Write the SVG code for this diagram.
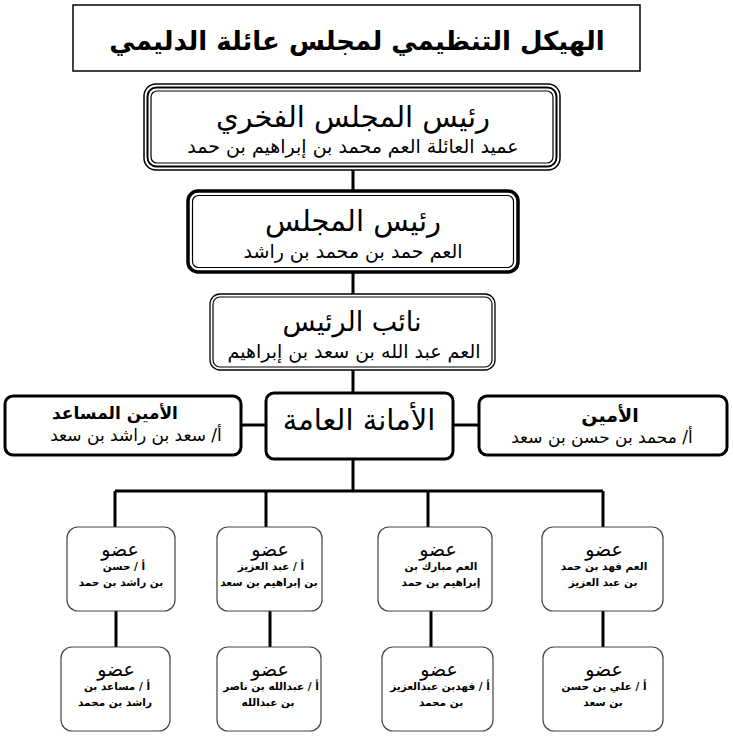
<svg xmlns="http://www.w3.org/2000/svg" width="733" height="743" viewBox="0 0 733 743">
<style>
text{font-family:"DejaVu Sans","Noto Sans",sans-serif;text-anchor:middle;fill:#000}
.t{font-weight:bold;font-size:26px}
.s{font-size:19px}
.mh{font-size:17px;font-weight:bold}
.ms{font-size:17px}
.m1{font-size:19px}
.m2{font-size:10.5px;font-weight:bold}
.con{stroke:#000;stroke-width:3;fill:none}
.mb{fill:#fff;stroke:#444;stroke-width:1.2}
.thin{fill:none;stroke:#000;stroke-width:1.2}
</style>
<rect width="733" height="743" fill="#fff"/>
<g id="connectors">
<path class="con" d="M353 170V190M353 273V294M353 370V392M241 425H265M453 425H478M353 459V491M115 491H603M115 491V527M266 491V527M428 491V527M603 491V527M116 610V647M270 610V647M431 610V647M603 610V647"/>
</g>
<g id="title">
<rect x="73" y="5" width="567" height="66" fill="#fff" stroke="#000" stroke-width="1.5"/>
<text class="t" x="357" y="50">الهيكل التنظيمي لمجلس عائلة الدليمي</text>
</g>
<g id="honorary">
<rect x="144" y="84" width="416" height="86" rx="12" fill="#fff" stroke="#000" stroke-width="1.5"/>
<rect x="147.5" y="87.5" width="409" height="79" rx="9" fill="none" stroke="#000" stroke-width="2"/>
<rect x="151" y="91" width="402" height="72" rx="6" class="thin"/>
<text x="353" y="127" font-size="29">رئيس المجلس الفخري</text>
<text class="s" x="353" y="153">عميد العائلة العم محمد بن إبراهيم بن حمد</text>
</g>
<g id="chairman">
<rect x="188" y="191" width="330" height="81" rx="10" fill="#fff" stroke="#000" stroke-width="3.5"/>
<rect x="192.5" y="195.5" width="321" height="72" rx="6" class="thin"/>
<text x="353" y="231" font-size="29">رئيس المجلس</text>
<text class="s" x="353" y="258">العم حمد بن محمد بن راشد</text>
</g>
<g id="vice">
<rect x="210" y="294" width="285" height="76" rx="10" fill="#fff" stroke="#000" stroke-width="1.3"/>
<rect x="213" y="297" width="279" height="70" rx="7" class="thin"/>
<text x="352" y="331" font-size="27">نائب الرئيس</text>
<text class="s" x="354" y="358">العم عبد الله بن سعد بن إبراهيم</text>
</g>
<g id="assistant">
<rect x="5" y="396" width="236" height="59" rx="8" fill="#fff" stroke="#000" stroke-width="3"/>
<text class="mh" x="115" y="419">الأمين المساعد</text>
<text class="ms" x="136" y="441">أ/ سعد بن راشد بن سعد</text>
</g>
<g id="general">
<rect x="266" y="393" width="187" height="66" rx="8" fill="#fff" stroke="#000" stroke-width="3"/>
<text x="359" y="430" font-size="29">الأمانة العامة</text>
</g>
<g id="secretary">
<rect x="479" y="396" width="248" height="59" rx="8" fill="#fff" stroke="#000" stroke-width="3"/>
<text x="610" y="422" font-size="19" font-weight="bold">الأمين</text>
<text class="ms" x="602" y="443">أ/ محمد بن حسن بن سعد</text>
</g>
<g id="m1">
<rect class="mb" x="67" y="527" width="108" height="84" rx="11"/>
<text class="m1" x="120" y="556">عضو</text>
<text class="m2" x="124" y="570">أ / حسن</text>
<text class="m2" x="121" y="586">بن راشد  بن حمد</text>
</g>
<g id="m2">
<rect class="mb" x="217" y="527" width="105" height="84" rx="11"/>
<text class="m1" x="270" y="556">عضو</text>
<text class="m2" x="271" y="570">أ / عبد العزيز</text>
<text class="m2" x="269" y="586">بن إبراهيم  بن سعد</text>
</g>
<g id="m3">
<rect class="mb" x="378" y="527" width="114" height="84" rx="11"/>
<text class="m1" x="438" y="556">عضو</text>
<text class="m2" x="441" y="570">العم مبارك بن</text>
<text class="m2" x="441" y="586">إبراهيم بن حمد</text>
</g>
<g id="m4">
<rect class="mb" x="542" y="527" width="121" height="84" rx="11"/>
<text class="m1" x="604" y="556">عضو</text>
<text class="m2" x="604" y="570">العم فهد بن حمد</text>
<text class="m2" x="603" y="586">بن عبد العزيز</text>
</g>
<g id="m5">
<rect class="mb" x="61" y="647" width="109" height="84" rx="11"/>
<text class="m1" x="116" y="676">عضو</text>
<text class="m2" x="117" y="690">أ / مساعد بن</text>
<text class="m2" x="115" y="706">راشد  بن محمد</text>
</g>
<g id="m6">
<rect class="mb" x="217" y="647" width="104" height="84" rx="11"/>
<text class="m1" x="270" y="676">عضو</text>
<text class="m2" x="271" y="690">أ / عبدالله بن ناصر</text>
<text class="m2" x="268" y="706">بن عبدالله</text>
</g>
<g id="m7">
<rect class="mb" x="382" y="647" width="111" height="84" rx="11"/>
<text class="m1" x="439" y="676">عضو</text>
<text class="m2" x="440" y="690">أ / فهدبن عبدالعزيز</text>
<text class="m2" x="441" y="706">بن محمد</text>
</g>
<g id="m8">
<rect class="mb" x="543" y="647" width="120" height="84" rx="11"/>
<text class="m1" x="604" y="676">عضو</text>
<text class="m2" x="604" y="690">أ / علي بن حسن</text>
<text class="m2" x="603" y="706">بن سعد</text>
</g>
</svg>
